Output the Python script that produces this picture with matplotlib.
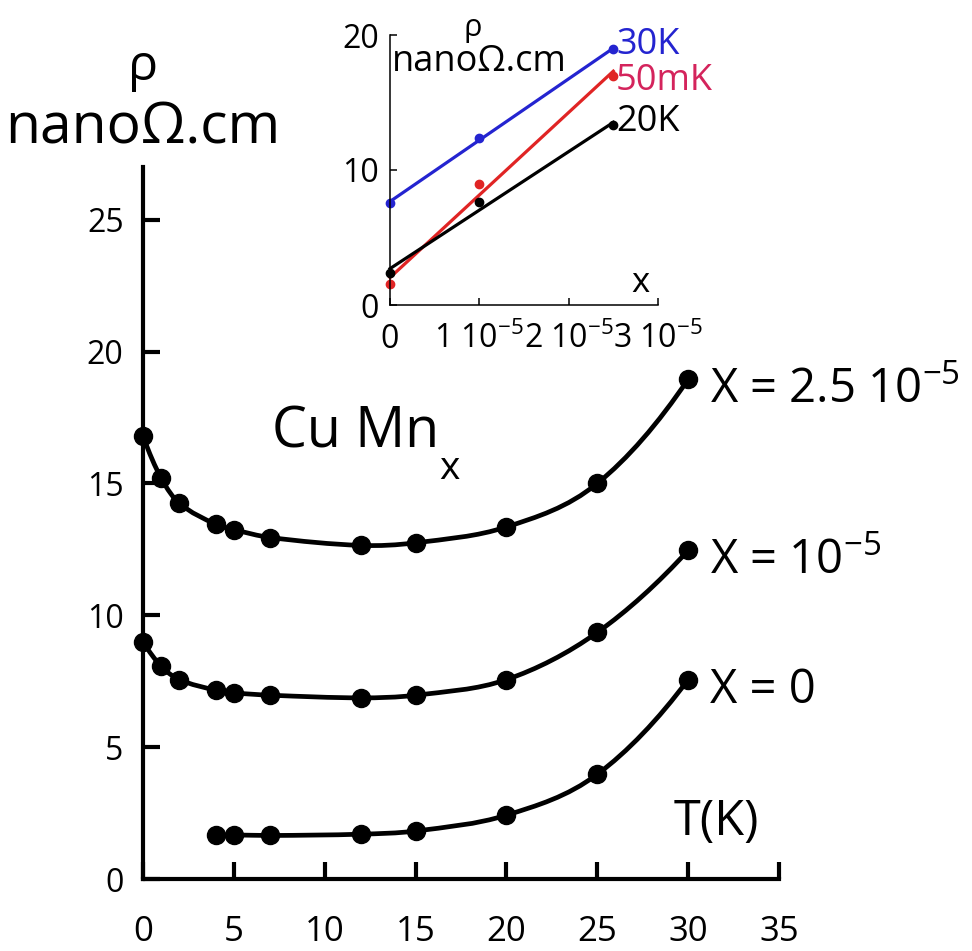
import numpy as np
import matplotlib
matplotlib.use('Agg')
import matplotlib.pyplot as plt
from matplotlib.path import Path
from matplotlib.patches import PathPatch

plt.rcParams['font.family'] = ['Open Sans', 'DejaVu Sans']
plt.rcParams['mathtext.default'] = 'regular'

# main plot: resistivity vs temperature
T_high = [0, 1, 2, 4, 5, 7, 12, 15, 20, 25, 30]
rho_high = [16.8, 15.2, 14.25, 13.45, 13.25, 12.95, 12.65, 12.75, 13.35, 15.0, 18.95]
T_mid = [0, 1, 2, 4, 5, 7, 12, 15, 20, 25, 30]
rho_mid = [9.0, 8.07, 7.56, 7.16, 7.06, 6.97, 6.87, 6.97, 7.56, 9.35, 12.46]
T_zero = [4, 5, 7, 12, 15, 20, 25, 30]
rho_zero = [1.65, 1.67, 1.65, 1.7, 1.82, 2.42, 3.97, 7.56]
curve_labels = ['X = 2.5 10$^{-5}$', 'X = 10$^{-5}$', 'X = 0']

# inset: resistivity vs concentration (units of 1e-5)
x_conc = [0, 1, 2.5]
rho_30K = [7.55, 12.4, 18.95]
rho_50mK = [1.55, 8.95, 17.0]
rho_20K = [2.35, 7.6, 13.3]
inset_names = ['30K', '50mK', '20K']
inset_xticklabels = ['0', '1 10$^{-5}$', '2 10$^{-5}$', '3 10$^{-5}$']


def smooth_path(xs, ys):
    # cubic hermite segments drawn as bezier curves
    xs = np.asarray(xs, float)
    ys = np.asarray(ys, float)
    n = len(xs)
    d = np.diff(ys) / np.diff(xs)
    m = np.zeros(n)
    m[1:-1] = (ys[2:] - ys[:-2]) / (xs[2:] - xs[:-2])
    m[0] = 2 * d[0] - m[1]
    m[-1] = 2 * d[-1] - m[-2]
    verts = [(xs[0], ys[0])]
    codes = [Path.MOVETO]
    for i in range(n - 1):
        h = xs[i + 1] - xs[i]
        verts += [(xs[i] + h / 3, ys[i] + m[i] * h / 3),
                  (xs[i + 1] - h / 3, ys[i + 1] - m[i + 1] * h / 3),
                  (xs[i + 1], ys[i + 1])]
        codes += [Path.CURVE4] * 3
    return Path(verts, codes)


fig = plt.figure(figsize=(9.72, 9.51), dpi=100)
ax = fig.add_axes([143 / 972, 1 - 879 / 951, 636 / 972, (879 - 167) / 951])

for T, rho, lab in zip([T_high, T_mid, T_zero], [rho_high, rho_mid, rho_zero], curve_labels):
    ax.add_patch(PathPatch(smooth_path(T, rho), facecolor='none', edgecolor='black',
                           lw=3.4, clip_on=False, capstyle='round'))
    ax.plot(T, rho, 'o', color='black', ms=13, clip_on=False, zorder=3)
    ax.text(T[-1] + 1.2, rho[-1] - 0.9, lab, fontsize=34, ha='left', va='baseline')

ax.set_xlim(0, 35)
ax.set_ylim(0, 27)
ax.set_xticks(range(0, 36, 5))
ax.set_yticks(range(0, 26, 5))
for s in ['top', 'right']:
    ax.spines[s].set_visible(False)
for s in ['left', 'bottom']:
    ax.spines[s].set_linewidth(3)
ax.tick_params(axis='both', direction='in', length=12, width=3)
ax.tick_params(axis='x', pad=26, labelsize=25)
ax.tick_params(axis='y', pad=14, labelsize=23)

ax.text(0, 30.8, 'ρ', fontsize=36, ha='center', va='center', clip_on=False)
ax.text(0, 27.9, 'nanoΩ.cm', fontsize=41, ha='center', va='baseline', clip_on=False)
ax.text(7.1, 16.36, 'Cu Mn', fontsize=40, ha='left', va='baseline')
ax.text(16.3, 15.15, 'x', fontsize=28, ha='left', va='baseline')
ax.text(29.2, 1.65, 'T(K)', fontsize=35, ha='left', va='baseline')

# inset
ins = fig.add_axes([390 / 972, 1 - 305 / 951, 268 / 972, 270 / 951])
colors = ['#2424d0', '#e02424', 'black']
text_colors = ['#2424d0', '#d4245c', 'black']
label_shift = [0.3, -0.4, 0.25]
for rho, name, c, tc, dy in zip([rho_30K, rho_50mK, rho_20K], inset_names, colors,
                                text_colors, label_shift):
    k, b = np.polyfit(x_conc, rho, 1)
    xf = np.array([x_conc[0], x_conc[-1]])
    ins.plot(xf, k * xf + b, color=c, lw=2.3, clip_on=False)
    ins.plot(x_conc, rho, 'o', color=c, ms=6, clip_on=False)
    ins.text(x_conc[-1] + 0.03, rho[-1] + dy, name, color=tc, fontsize=26,
             ha='left', va='center')

ins.set_xlim(0, 3)
ins.set_ylim(0, 20)
ins.set_xticks([0, 1, 2, 3])
ins.set_xticklabels(inset_xticklabels)
ins.set_yticks([0, 10, 20])
for s in ['top', 'right']:
    ins.spines[s].set_visible(False)
for s in ['left', 'bottom']:
    ins.spines[s].set_linewidth(1.1)
ins.tick_params(axis='both', direction='in', length=5, width=1.1, labelsize=23)
ins.tick_params(axis='x', pad=13)
ins.tick_params(axis='y', pad=8)
ins.patch.set_alpha(0)

ins.text(0.93, 20.5, 'ρ', fontsize=22, ha='center', va='center', clip_on=False)
ins.text(1.0, 18.0, 'nanoΩ.cm', fontsize=26, ha='center', va='center')
ins.text(2.8, 1.6, 'x', fontsize=25, ha='center', va='center')

fig.savefig('out.png', dpi=100)
